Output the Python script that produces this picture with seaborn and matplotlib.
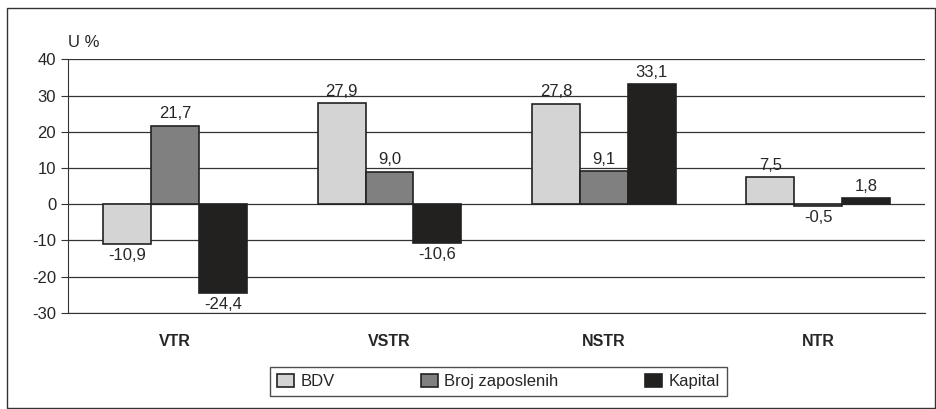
import matplotlib
matplotlib.use('Agg')

import pandas as pd
import matplotlib.pyplot as plt
import seaborn as sns
from matplotlib.patches import Rectangle

# Data
categories = ['VTR', 'VSTR', 'NSTR', 'NTR']
series = ['BDV', 'Broj zaposlenih', 'Kapital']
bdv = [-10.9, 27.9, 27.8, 7.5]
zaposleni = [21.7, 9.0, 9.1, -0.5]
kapital = [-24.4, -10.6, 33.1, 1.8]
colors = ['#d4d4d4', '#808080', '#231f20']

df = pd.DataFrame({
    'cat': categories * 3,
    'serija': [s for s in series for _ in categories],
    'val': bdv + zaposleni + kapital,
})

sns.set_style('white')
plt.rcParams['font.family'] = ['Liberation Sans', 'DejaVu Sans']
plt.rcParams['axes.unicode_minus'] = False

fig = plt.figure(figsize=(9.37, 4.09), dpi=100)
ax = fig.add_axes([0.0726, 0.235, 0.915, 0.62])

sns.barplot(data=df, x='cat', y='val', hue='serija', palette=colors,
            width=0.67, edgecolor='#222222', linewidth=1.2, ax=ax,
            legend=True, zorder=3)

ax.set_ylim(-30, 40)
ax.set_yticks(range(-30, 41, 10))
ax.set_xlim(-0.5, 3.5)
ax.yaxis.grid(True, color='#333333', linewidth=0.9, zorder=0)
ax.set_axisbelow(True)
for s in ['top', 'right']:
    ax.spines[s].set_visible(False)
ax.spines['left'].set_color('#333333')
ax.spines['bottom'].set_color('#333333')
ax.tick_params(axis='y', left=True, length=5, color='#333333', labelsize=12)
ax.tick_params(axis='x', bottom=False, labelsize=11.5, pad=12)
for t in ax.get_xticklabels():
    t.set_fontweight('bold')
ax.set_xlabel('')
ax.set_ylabel('')

# value labels
for cont in ax.containers:
    for b in cont:
        h = b.get_height()
        lab = f'{h:.1f}'.replace('.', ',')
        x = b.get_x() + b.get_width() / 2
        if h >= 0:
            ax.annotate(lab, (x, h), xytext=(0, 3), textcoords='offset points',
                        ha='center', va='bottom', fontsize=12)
        else:
            ax.annotate(lab, (x, h), xytext=(0, -3), textcoords='offset points',
                        ha='center', va='top', fontsize=12)

ax.text(0.0, 1.035, 'U %', transform=ax.transAxes, fontsize=12, ha='left', va='bottom')

leg = ax.legend(loc='upper center', bbox_to_anchor=(0.502, -0.215), ncol=3,
                frameon=True, fancybox=False, edgecolor='#222222',
                fontsize=12, handlelength=1.0, handleheight=0.8,
                columnspacing=5.2, handletextpad=0.4, borderpad=0.4,
                borderaxespad=0)
leg.get_frame().set_linewidth(1.0)

# outer border
fig.patches.append(Rectangle((0.008, 0.003), 0.99, 0.978, transform=fig.transFigure,
                             fill=False, edgecolor='#333333', linewidth=1.0))

plt.savefig('out.png', dpi=100)
